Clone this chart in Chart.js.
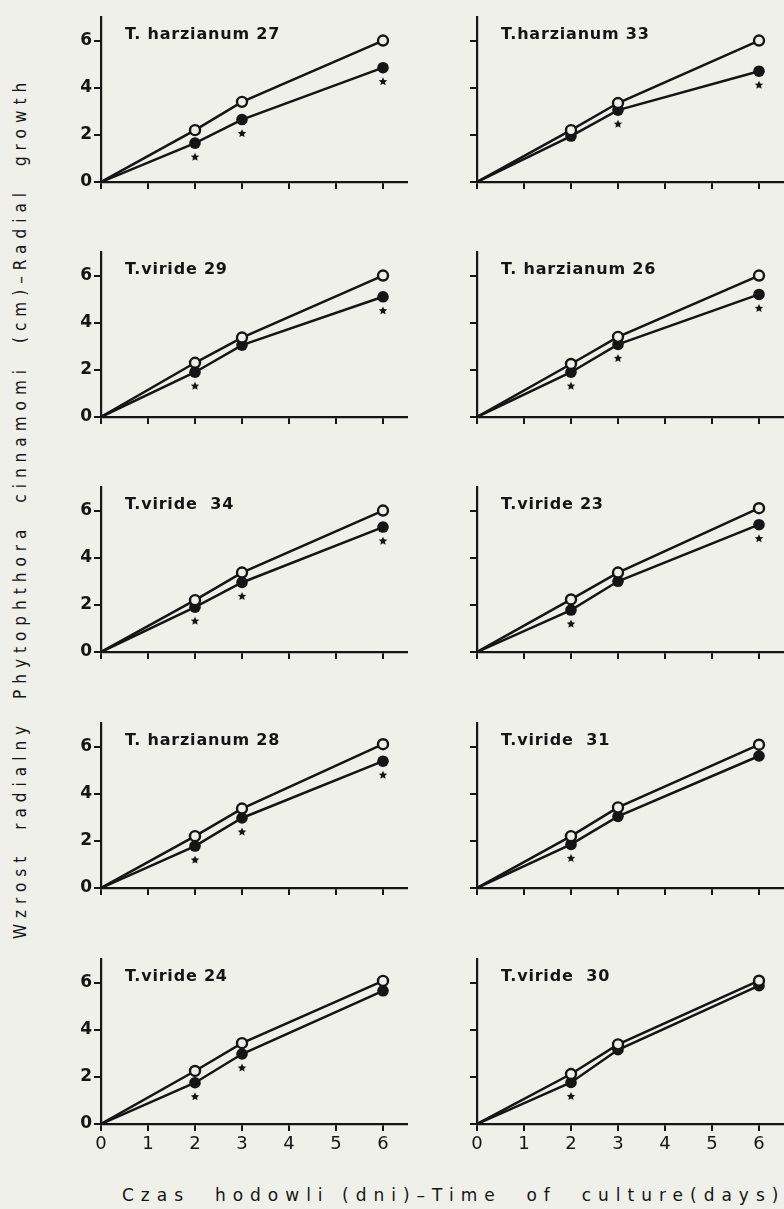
<!DOCTYPE html>
<html>
<head>
<meta charset="utf-8">
<script src="https://cdn.jsdelivr.net/npm/chart.js@4/dist/chart.umd.min.js"></script>
<style>
  html, body { margin: 0; padding: 0; }
  body { width: 784px; height: 1209px; overflow: hidden; background: #eff0ea; position: relative; color: #151515; }
  canvas { position: absolute; }
  .name { position: absolute; font: bold 16px "DejaVu Sans", sans-serif; letter-spacing: 0.8px; line-height: 16px; white-space: pre; }
  #ylab { position: absolute; left: 20px; top: 508px; transform: translate(-50%, -50%) rotate(-90deg);
    font: 17px "DejaVu Sans Condensed", "DejaVu Sans", sans-serif; letter-spacing: 6px; word-spacing: 10px; white-space: pre; }
  #xlab { position: absolute; left: 122px; top: 1185px; font: 17px "DejaVu Sans", sans-serif; letter-spacing: 7px; white-space: pre; }
</style>
</head>
<body>
<div id="ylab">Wzrost radialny Phytophthora cinnamomi (cm)–Radial growth</div>
<div id="xlab">Czas  hodowli (dni)–Time  of  culture(days)</div>
<script>
// days of culture
const days = [0, 2, 3, 6];
const xTicks = [0, 1, 2, 3, 4, 5, 6];
const yTicks = [0, 2, 4, 6];

// strain names, read left to right, top to bottom
const names = [
  'T. harzianum 27', 'T.harzianum 33',
  'T.viride 29', 'T. harzianum 26',
  'T.viride  34', 'T.viride 23',
  'T. harzianum 28', 'T.viride  31',
  'T.viride 24', 'T.viride  30',
];

// control (open circles), radial growth in cm
const control27 = [0, 2.2, 3.4, 6.0];
const control33 = [0, 2.2, 3.35, 6.0];
const control29 = [0, 2.3, 3.37, 6.0];
const control26 = [0, 2.25, 3.4, 6.0];
const control34 = [0, 2.2, 3.37, 6.0];
const control23 = [0, 2.23, 3.37, 6.1];
const control28 = [0, 2.2, 3.37, 6.1];
const control31 = [0, 2.2, 3.42, 6.08];
const control24 = [0, 2.25, 3.43, 6.07];
const control30 = [0, 2.12, 3.38, 6.08];

// with Trichoderma (filled circles)
const treated27 = [0, 1.65, 2.65, 4.85];
const treated33 = [0, 1.95, 3.05, 4.7];
const treated29 = [0, 1.9, 3.05, 5.1];
const treated26 = [0, 1.9, 3.08, 5.2];
const treated34 = [0, 1.9, 2.95, 5.3];
const treated23 = [0, 1.78, 3.0, 5.4];
const treated28 = [0, 1.78, 2.97, 5.38];
const treated31 = [0, 1.85, 3.04, 5.6];
const treated24 = [0, 1.75, 2.97, 5.65];
const treated30 = [0, 1.76, 3.15, 5.87];

// days marked with a significance star
const stars27 = [2, 3, 6];
const stars33 = [3, 6];
const stars29 = [2, 6];
const stars26 = [2, 3, 6];
const stars34 = [2, 3, 6];
const stars23 = [2, 6];
const stars28 = [2, 3, 6];
const stars31 = [2];
const stars24 = [2, 3];
const stars30 = [2];

const controls = [control27, control33, control29, control26, control34, control23, control28, control31, control24, control30];
const treateds = [treated27, treated33, treated29, treated26, treated34, treated23, treated28, treated31, treated24, treated30];
const starDays = [stars27, stars33, stars29, stars26, stars34, stars23, stars28, stars31, stars24, stars30];

const INK = '#151515';
const PAPER = '#eff0ea';
const rowZero = [181.5, 416.5, 652, 888, 1124];
const colLeft = [60, 436];

const starPlugin = {
  id: 'stars',
  afterDatasetsDraw(chart, args, opts) {
    const { ctx, scales } = chart;
    ctx.save();
    ctx.fillStyle = INK;
    opts.days.forEach((d) => {
      const i = days.indexOf(d);
      const cx = scales.x.getPixelForValue(d);
      const cy = scales.y.getPixelForValue(opts.values[i]) + 14;
      ctx.beginPath();
      for (let k = 0; k < 10; k++) {
        const r = k % 2 ? 2.1 : 4.4;
        const a = -Math.PI / 2 + k * Math.PI / 5;
        ctx.lineTo(cx + r * Math.cos(a), cy + r * Math.sin(a));
      }
      ctx.closePath();
      ctx.fill();
    });
    ctx.restore();
  },
};

names.forEach((name, p) => {
  const row = Math.floor(p / 2);
  const col = p % 2;
  const canvas = document.createElement('canvas');
  canvas.width = 360;
  canvas.height = 216;
  canvas.style.left = colLeft[col] + 'px';
  canvas.style.top = (rowZero[row] - 180) + 'px';
  document.body.appendChild(canvas);

  const label = document.createElement('div');
  label.className = 'name';
  label.textContent = name;
  label.style.left = (col ? 501 : 125) + 'px';
  label.style.top = (rowZero[row] - 156) + 'px';
  document.body.appendChild(label);

  const axisBase = {
    type: 'linear',
    grid: { drawOnChartArea: false, drawTicks: true, tickLength: 7, color: INK, lineWidth: 2 },
    border: { display: true, color: INK, width: 2.2 },
  };

  new Chart(canvas, {
    type: 'scatter',
    data: {
      datasets: [
        {
          data: days.map((d, i) => ({ x: d, y: controls[p][i] })),
          showLine: true,
          borderColor: INK,
          borderWidth: 2.5,
          pointRadius: days.map((d) => (d === 0 ? 0 : 5)),
          pointBackgroundColor: PAPER,
          pointBorderColor: INK,
          pointBorderWidth: 2.4,
        },
        {
          data: days.map((d, i) => ({ x: d, y: treateds[p][i] })),
          showLine: true,
          borderColor: INK,
          borderWidth: 2.5,
          pointRadius: days.map((d) => (d === 0 ? 0 : 5.8)),
          pointBackgroundColor: INK,
          pointBorderColor: INK,
          pointBorderWidth: 0,
        },
      ],
    },
    options: {
      responsive: false,
      animation: false,
      events: [],
      layout: { padding: { top: 15, right: 13.5, left: 0, bottom: 0 } },
      plugins: {
        legend: { display: false },
        tooltip: { enabled: false },
        stars: { days: starDays[p], values: treateds[p] },
      },
      scales: {
        x: {
          ...axisBase,
          min: 0,
          max: 6.5,
          afterFit: (s) => { s.height = 36; },
          afterBuildTicks: (s) => { s.ticks = xTicks.map((v) => ({ value: v })); },
          ticks: {
            display: row === 4,
            color: INK,
            padding: 3,
            maxRotation: 0,
            font: { family: 'DejaVu Sans', size: 18 },
          },
        },
        y: {
          ...axisBase,
          min: 0,
          max: 7,
          afterFit: (s) => { s.width = 41; },
          afterBuildTicks: (s) => { s.ticks = yTicks.map((v) => ({ value: v })); },
          ticks: {
            display: col === 0,
            color: INK,
            padding: 2,
            font: { family: 'DejaVu Sans', size: 17, weight: 'bold' },
          },
        },
      },
    },
    plugins: [starPlugin],
  });
});
</script>
</body>
</html>
